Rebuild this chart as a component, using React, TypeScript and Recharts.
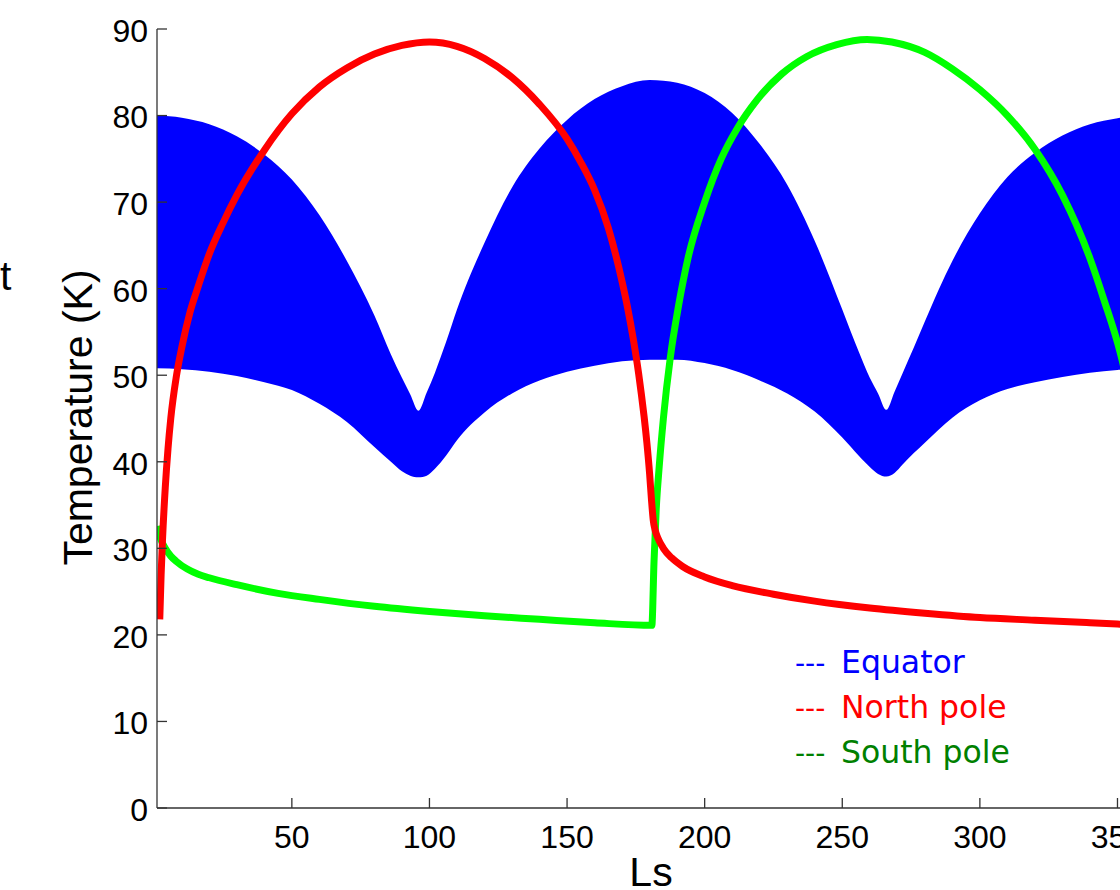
import React from 'react';
import { ComposedChart, Area, Line, XAxis, YAxis, Legend } from 'recharts';

// Equator: envelope of the diurnal oscillation (min / max temperature)
const equatorLs = [1, 10, 20, 30, 40, 50, 60, 70, 80, 86, 90, 93, 96, 99, 102, 106, 110, 120, 130, 140, 150, 160, 170, 180, 190, 200, 210, 220, 230, 240, 250, 256, 260, 263, 266, 269, 272, 276, 280, 290, 300, 310, 320, 330, 340, 350, 360];
const equatorHigh = [80.0, 79.75, 79.0, 77.6, 75.5, 72.6, 68.5, 63.2, 56.9, 52.4, 49.7, 47.8, 45.9, 48.0, 50.3, 53.8, 57.6, 65.3, 71.7, 76.2, 79.5, 81.9, 83.4, 84.1, 83.8, 82.6, 80.3, 76.7, 72.0, 65.5, 57.6, 52.7, 49.7, 47.9, 46.0, 48.1, 50.3, 53.2, 56.2, 63.2, 68.7, 72.9, 75.7, 77.7, 79.0, 79.7, 80.0];
const equatorLow = [50.8, 50.7, 50.4, 49.9, 49.2, 48.3, 46.7, 44.6, 41.7, 40.0, 38.9, 38.4, 38.2, 38.4, 39.2, 40.7, 42.5, 45.7, 47.9, 49.4, 50.4, 51.1, 51.6, 51.8, 51.8, 51.4, 50.6, 49.4, 47.9, 45.8, 42.8, 40.7, 39.4, 38.6, 38.3, 38.7, 39.7, 41.0, 42.2, 45.1, 47.1, 48.4, 49.2, 49.8, 50.3, 50.6, 50.8];

// North pole
const northLs = [2, 2.5, 3, 4, 5, 6, 8, 10, 13, 16, 20, 25, 30, 40, 50, 60, 70, 80, 90, 100, 110, 120, 130, 140, 150, 155, 160, 165, 170, 172, 174, 176, 177, 178, 179, 180, 180.7, 181.3, 182, 183, 185, 188, 192, 200, 210, 225, 240, 260, 280, 300, 320, 340, 360];
const northT = [21.8, 27.0, 31.0, 37.0, 41.5, 45.0, 49.8, 53.2, 57.3, 60.3, 64.0, 67.6, 70.8, 76.0, 80.2, 83.3, 85.5, 87.1, 88.1, 88.5, 88.0, 86.6, 84.4, 81.3, 77.3, 74.6, 71.4, 67.0, 60.8, 57.8, 54.3, 50.2, 47.8, 45.2, 42.2, 38.6, 35.5, 33.3, 32.1, 31.2, 30.0, 28.9, 27.9, 26.7, 25.7, 24.7, 23.9, 23.1, 22.5, 22.0, 21.7, 21.4, 21.1];

// South pole
const southLs = [1.2, 2, 3, 4, 6, 8, 12, 16, 20, 30, 45, 60, 80, 100, 120, 140, 160, 180.8, 181.6, 182.4, 183.5, 185, 187.5, 190.5, 194, 200, 206, 212, 219, 228, 237, 248, 259, 268, 280, 290, 300, 310, 320, 330, 340, 345, 351, 355, 358, 360];
const southT = [32.6, 31.4, 30.6, 30.0, 29.1, 28.5, 27.6, 27.0, 26.6, 25.8, 24.8, 24.1, 23.3, 22.7, 22.2, 21.8, 21.4, 21.1, 28.5, 34.5, 39.5, 45.0, 52.0, 58.0, 63.6, 70.0, 75.0, 78.6, 81.8, 84.8, 86.8, 88.2, 88.8, 88.5, 87.3, 85.4, 83.0, 80.0, 76.1, 70.8, 63.5, 58.8, 52.6, 47.0, 41.5, 35.0];

const xTicks = [50, 100, 150, 200, 250, 300, 350];
const yTicks = [0, 10, 20, 30, 40, 50, 60, 70, 80, 90];
const xDomain = [1, 360];
const yDomain = [0, 90];

const legendLabels = ['Equator', 'North pole', 'South pole'];
const legendColors = ['#0000ff', '#ff0000', '#008000'];

const xLabel = 'Ls';
const yLabel = 'Temperature (K)';
const croppedText = 't';

const equatorData = equatorLs.map((ls, i) => ({ ls, band: [equatorLow[i], equatorHigh[i]] }));
const northData = northLs.map((ls, i) => ({ ls, t: northT[i] }));
const southData = southLs.map((ls, i) => ({ ls, t: southT[i] }));

const AXIS_FONT = '"Liberation Sans", Arial, Helvetica, sans-serif';
const LEGEND_FONT = '"DejaVu Sans", Verdana, sans-serif';
const AXIS_COLOR = '#333';

const renderLegend = () => (
  <svg width={330} height={140} style={{ display: 'block' }}>
    {legendLabels.map((label, i) => (
      <g key={label}>
        <text x={5} y={33 + i * 45} fill={legendColors[i]} fontFamily={LEGEND_FONT} fontSize={28}>---</text>
        <text x={51} y={33 + i * 45} fill={legendColors[i]} fontFamily={LEGEND_FONT} fontSize={31.5}>{label}</text>
      </g>
    ))}
  </svg>
);

const renderYLabel = (props: any) => {
  const vb = props.viewBox || {};
  const cx = vb.x + 92;
  const cy = vb.y + vb.height / 2 - 1;
  return (
    <text x={cx} y={cy} transform={`rotate(-90 ${cx} ${cy})`} textAnchor="middle" fontFamily={AXIS_FONT} fontSize={41} fill="#000">
      {yLabel}
    </text>
  );
};

const renderXLabel = (props: any) => {
  const vb = props.viewBox || {};
  const cx = vb.x + vb.width / 2;
  const cy = vb.y + 78;
  return (
    <text x={cx} y={cy} textAnchor="middle" fontFamily={AXIS_FONT} fontSize={41} fill="#000">
      {xLabel}
    </text>
  );
};

export default function App() {
  return (
    <div style={{ position: 'absolute', left: 0, top: 0, width: 1120, height: 890, overflow: 'hidden', background: '#fff' }}>
      <svg width={60} height={400} style={{ position: 'absolute', left: 0, top: 0 }}>
        <text x={0} y={290} fontFamily={AXIS_FONT} fontSize={41} fill="#000">{croppedText}</text>
      </svg>
      <div style={{ position: 'absolute', left: 0, top: 0 }}>
        <ComposedChart width={1165} height={890} margin={{ top: 29, right: 20, bottom: 0, left: 0 }}>
          <XAxis
            dataKey="ls"
            type="number"
            domain={xDomain}
            ticks={xTicks}
            allowDataOverflow
            height={82}
            stroke={AXIS_COLOR}
            strokeWidth={1.3}
            tickSize={-10}
            tickMargin={27}
            tick={{ fill: '#000', fontSize: 32, fontFamily: AXIS_FONT }}
            label={{ content: renderXLabel }}
          />
          <XAxis
            xAxisId="top"
            orientation="top"
            dataKey="ls"
            type="number"
            domain={xDomain}
            ticks={xTicks}
            allowDataOverflow
            height={0}
            stroke={AXIS_COLOR}
            strokeWidth={1.3}
            tickSize={-10}
            tick={false}
          />
          <YAxis
            type="number"
            domain={yDomain}
            ticks={yTicks}
            allowDataOverflow
            width={157}
            stroke={AXIS_COLOR}
            strokeWidth={1.3}
            tickSize={-10}
            tickMargin={19}
            tick={{ fill: '#000', fontSize: 32, fontFamily: AXIS_FONT, dy: 1.5 }}
            label={{ content: renderYLabel }}
          />
          <Area
            data={equatorData}
            dataKey="band"
            type="monotone"
            fill="#0000ff"
            fillOpacity={1}
            stroke="none"
            isAnimationActive={false}
            dot={false}
            activeDot={false}
          />
          <Line
            data={southData}
            dataKey="t"
            type="monotone"
            stroke="#00ff00"
            strokeWidth={7}
            dot={false}
            activeDot={false}
            isAnimationActive={false}
          />
          <Line
            data={northData}
            dataKey="t"
            type="monotone"
            stroke="#ff0000"
            strokeWidth={7}
            dot={false}
            activeDot={false}
            isAnimationActive={false}
          />
          <Legend
            layout="horizontal"
            verticalAlign="middle"
            align="center"
            content={renderLegend}
            wrapperStyle={{ left: 790, top: 640, width: 330, height: 140 }}
          />
        </ComposedChart>
      </div>
    </div>
  );
}
